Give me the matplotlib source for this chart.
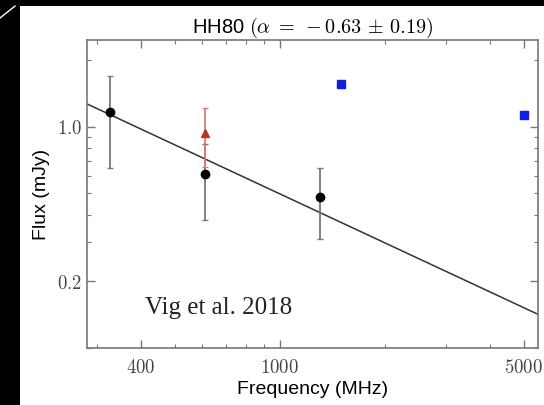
import matplotlib
matplotlib.use('Agg')
import matplotlib.pyplot as plt
from matplotlib.patches import Rectangle
from matplotlib.lines import Line2D
from matplotlib.ticker import FixedLocator, FixedFormatter, LogLocator, NullFormatter

plt.rcParams['mathtext.fontset'] = 'cm'

# black points: Vig et al. 2018
freq_vig = [325, 610, 1300]
flux_vig = [1.17, 0.61, 0.48]
err_vig = [0.52, 0.23, 0.17]

# red triangle
freq_red = [610]
flux_red = [0.94]
err_red = [0.28]

# blue squares
freq_blue = [1500, 5000]
flux_blue = [1.56, 1.13]
err_blue = [0.06, 0.02]

# power-law fit, end points
fit_freq = [280, 5500]
fit_flux = [1.27, 0.142]

xticks = [400, 1000, 5000]
xticklabels = ['$400$', '$1000$', '$5000$']
yticks = [0.2, 1.0]
yticklabels = ['$0.2$', '$1.0$']

W, H = 544, 405
fig = plt.figure(figsize=(W / 100, H / 100), dpi=100, facecolor='black')
# screenshot frame
fig.patches.append(Rectangle((20 / W, 0), 1 - 20 / W, 1 - 6 / H, transform=fig.transFigure,
                             facecolor='white', edgecolor='none', zorder=-5))
fig.lines.append(Line2D([0, 15 / W], [1 - 18 / H, 1 - 6 / H], transform=fig.transFigure,
                        color='white', lw=1, zorder=-4))

ax = fig.add_axes([87 / W, 1 - 348 / H, (538 - 87) / W, (348 - 40) / H])
ax.set_xscale('log')
ax.set_yscale('log')

ax.plot(fit_freq, fit_flux, color='#333333', lw=1.1, zorder=2)
ax.errorbar(freq_vig, flux_vig, yerr=err_vig, fmt='o', color='black', ms=6,
            ecolor='#777777', elinewidth=1.3, capsize=2.5, capthick=1, zorder=3)
ax.errorbar(freq_red, flux_red, yerr=err_red, fmt='^', color='#b5382b', ms=6,
            ecolor='#e07a70', elinewidth=1.3, capsize=2.5, capthick=1, zorder=4)
ax.errorbar(freq_blue, flux_blue, yerr=err_blue, fmt='s', color='#1020e0', ms=6,
            ecolor='#8890f0', elinewidth=1, capsize=2, capthick=1, zorder=4)

ax.set_xlim(280, 5500)
ax.set_ylim(0.1, 2.47)

ax.xaxis.set_major_locator(FixedLocator(xticks))
ax.xaxis.set_major_formatter(FixedFormatter(xticklabels))
ax.xaxis.set_minor_locator(LogLocator(subs='all'))
ax.xaxis.set_minor_formatter(NullFormatter())
ax.yaxis.set_major_locator(FixedLocator(yticks))
ax.yaxis.set_major_formatter(FixedFormatter(yticklabels))
ax.yaxis.set_minor_locator(LogLocator(subs='all'))
ax.yaxis.set_minor_formatter(NullFormatter())

ax.tick_params(which='both', direction='in', top=True, right=True, colors='#777777',
               labelcolor='#444444', labelsize=13.5)
ax.tick_params(which='major', length=6, width=1)
ax.tick_params(which='minor', length=3, width=0.8)
ax.tick_params(axis='x', pad=7)
for s in ax.spines.values():
    s.set_color('#777777')
    s.set_linewidth(1.2)

ax.set_title(r'HH80 $(\alpha\;=\;-0.63\,\pm\,0.19)$', fontsize=14.5, family='Liberation Sans', pad=3)
ax.set_xlabel('Frequency (MHz)', fontsize=14, family='Liberation Sans', labelpad=3)
ax.set_ylabel('Flux (mJy)', fontsize=14, family='Liberation Sans', labelpad=5)

ax.text(410, 0.143, 'Vig et al. 2018', fontsize=18, family='Liberation Serif', color='#222222')

fig.savefig('out.png', dpi=100, facecolor=fig.get_facecolor())
